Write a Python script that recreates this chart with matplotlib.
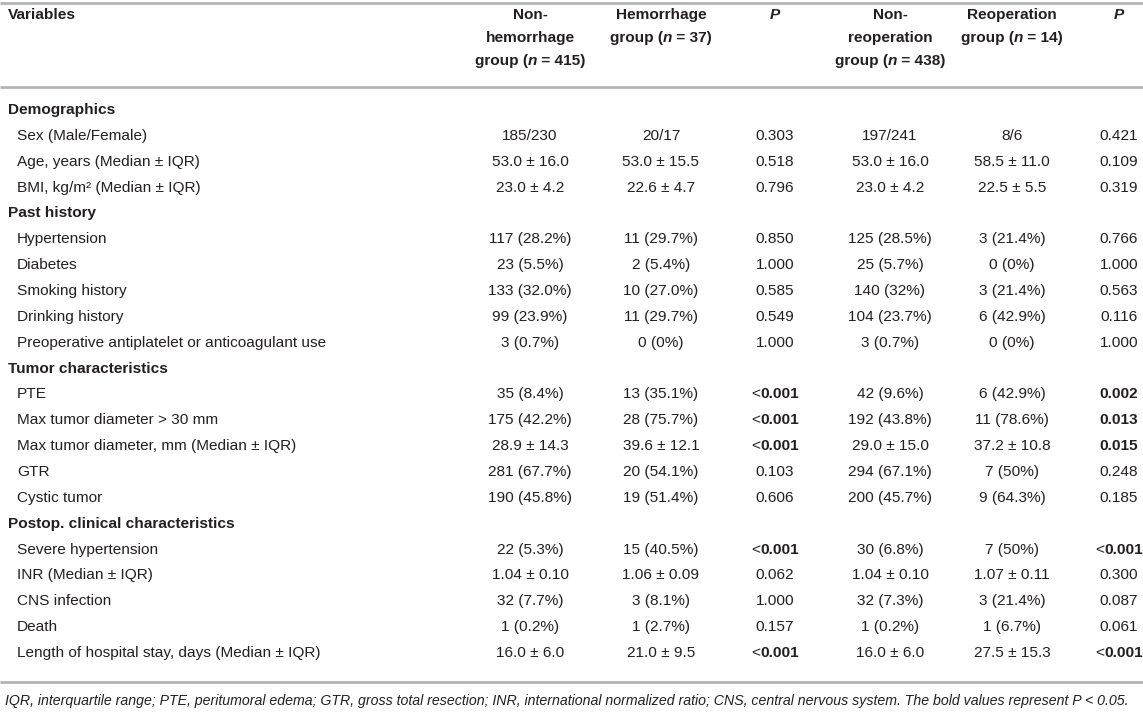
import matplotlib
matplotlib.use("Agg")
import matplotlib.pyplot as plt

plt.rcParams['font.family'] = ['Liberation Sans', 'DejaVu Sans']

# ---------------- data ----------------
headers = [
    [("Variables", "b")],
    [[("Non-", "b")], [("hemorrhage", "b")], [("group (", "b"), ("n", "bi"), (" = 415)", "b")]],
    [[("Hemorrhage", "b")], [("group (", "b"), ("n", "bi"), (" = 37)", "b")]],
    [[("P", "bi")]],
    [[("Non-", "b")], [("reoperation", "b")], [("group (", "b"), ("n", "bi"), (" = 438)", "b")]],
    [[("Reoperation", "b")], [("group (", "b"), ("n", "bi"), (" = 14)", "b")]],
    [[("P", "bi")]],
]

sections = ["Demographics", "Past history", "Tumor characteristics", "Postop. clinical characteristics"]

variables = [
    ["Sex (Male/Female)", "Age, years (Median \u00b1 IQR)", "BMI, kg/m\u00b2 (Median \u00b1 IQR)"],
    ["Hypertension", "Diabetes", "Smoking history", "Drinking history",
     "Preoperative antiplatelet or anticoagulant use"],
    ["PTE", "Max tumor diameter > 30 mm", "Max tumor diameter, mm (Median \u00b1 IQR)", "GTR", "Cystic tumor"],
    ["Severe hypertension", "INR (Median \u00b1 IQR)", "CNS infection", "Death",
     "Length of hospital stay, days (Median \u00b1 IQR)"],
]

non_hemorrhage = ["185/230", "53.0 \u00b1 16.0", "23.0 \u00b1 4.2",
                  "117 (28.2%)", "23 (5.5%)", "133 (32.0%)", "99 (23.9%)", "3 (0.7%)",
                  "35 (8.4%)", "175 (42.2%)", "28.9 \u00b1 14.3", "281 (67.7%)", "190 (45.8%)",
                  "22 (5.3%)", "1.04 \u00b1 0.10", "32 (7.7%)", "1 (0.2%)", "16.0 \u00b1 6.0"]
hemorrhage = ["20/17", "53.0 \u00b1 15.5", "22.6 \u00b1 4.7",
              "11 (29.7%)", "2 (5.4%)", "10 (27.0%)", "11 (29.7%)", "0 (0%)",
              "13 (35.1%)", "28 (75.7%)", "39.6 \u00b1 12.1", "20 (54.1%)", "19 (51.4%)",
              "15 (40.5%)", "1.06 \u00b1 0.09", "3 (8.1%)", "1 (2.7%)", "21.0 \u00b1 9.5"]
p_hemorrhage = ["0.303", "0.518", "0.796",
                "0.850", "1.000", "0.585", "0.549", "1.000",
                "<0.001", "<0.001", "<0.001", "0.103", "0.606",
                "<0.001", "0.062", "1.000", "0.157", "<0.001"]
non_reoperation = ["197/241", "53.0 \u00b1 16.0", "23.0 \u00b1 4.2",
                   "125 (28.5%)", "25 (5.7%)", "140 (32%)", "104 (23.7%)", "3 (0.7%)",
                   "42 (9.6%)", "192 (43.8%)", "29.0 \u00b1 15.0", "294 (67.1%)", "200 (45.7%)",
                   "30 (6.8%)", "1.04 \u00b1 0.10", "32 (7.3%)", "1 (0.2%)", "16.0 \u00b1 6.0"]
reoperation = ["8/6", "58.5 \u00b1 11.0", "22.5 \u00b1 5.5",
               "3 (21.4%)", "0 (0%)", "3 (21.4%)", "6 (42.9%)", "0 (0%)",
               "6 (42.9%)", "11 (78.6%)", "37.2 \u00b1 10.8", "7 (50%)", "9 (64.3%)",
               "7 (50%)", "1.07 \u00b1 0.11", "3 (21.4%)", "1 (6.7%)", "27.5 \u00b1 15.3"]
p_reoperation = ["0.421", "0.109", "0.319",
                 "0.766", "1.000", "0.563", "0.116", "1.000",
                 "0.002", "0.013", "0.015", "0.248", "0.185",
                 "<0.001", "0.300", "0.087", "0.061", "<0.001"]

footnote = ("IQR, interquartile range; PTE, peritumoral edema; GTR, gross total resection; "
            "INR, international normalized ratio; CNS, central nervous system. "
            "The bold values represent P < 0.05.")

# ---------------- layout ----------------
W, H = 1143, 712
fig = plt.figure(figsize=(W / 100, H / 100), dpi=100)
ax = fig.add_axes([0, 0, 1, 1])
ax.set_xlim(0, W)
ax.set_ylim(H, 0)
ax.axis('off')

FS = 11.1
FS_NOTE = 10.2
TXT = '#231f20'
LINE = '#b4b4b4'
col_x = [None, 530, 661, 775, 890, 1012, 1119]
x_var = 8
x_sub = 17

fig.canvas.draw()
renderer = fig.canvas.get_renderer()


def style_kw(s):
    kw = {}
    if 'b' in s:
        kw['fontweight'] = 'bold'
    if 'i' in s:
        kw['fontstyle'] = 'italic'
    return kw


def width_of(txt, s):
    t = ax.text(0, 0, txt, fontsize=FS, **style_kw(s))
    bb = t.get_window_extent(renderer=renderer)
    t.remove()
    return bb.width


def draw_segments(segs, xc, y, align='center', va='center'):
    widths = [width_of(t, s) for t, s in segs]
    total = sum(widths)
    if align == 'center':
        x = xc - total / 2
    elif align == 'left':
        x = xc
    else:
        x = xc - total
    for (t, s), w in zip(segs, widths):
        ax.text(x, y, t, fontsize=FS, color=TXT, ha='left', va=va, **style_kw(s))
        x += w


# lines
ax.plot([0, W], [3, 3], color=LINE, lw=2, solid_capstyle='butt')
ax.plot([0, W], [87, 87], color=LINE, lw=2, solid_capstyle='butt')
ax.plot([0, W], [682, 682], color=LINE, lw=2, solid_capstyle='butt')

# header
header_y = [15, 38, 61]
draw_segments(headers[0], x_var, header_y[0], align='left')
for ci in range(1, 7):
    for li, segs in enumerate(headers[ci]):
        draw_segments(segs, col_x[ci], header_y[li])

# body
y0 = 110
dy = 25.86
row = 0
k = 0
columns = [non_hemorrhage, hemorrhage, p_hemorrhage, non_reoperation, reoperation, p_reoperation]
for si, sec in enumerate(sections):
    y = y0 + row * dy
    ax.text(x_var, y, sec, fontsize=FS, fontweight='bold', color=TXT, ha='left', va='center')
    row += 1
    for var in variables[si]:
        y = y0 + row * dy
        ax.text(x_sub, y, var, fontsize=FS, color=TXT, ha='left', va='center')
        for ci, colvals in enumerate(columns, start=1):
            v = colvals[k]
            if ci in (3, 6):
                bold = v.startswith('<') or float(v) < 0.05
                if bold:
                    if v.startswith('<'):
                        draw_segments([('<', ''), (v[1:], 'b')], col_x[ci], y)
                    else:
                        draw_segments([(v, 'b')], col_x[ci], y)
                    continue
            ax.text(col_x[ci], y, v, fontsize=FS, color=TXT, ha='center', va='center')
        row += 1
        k += 1

ax.text(5, 701, footnote, fontsize=FS_NOTE, fontstyle='italic', color=TXT, ha='left', va='center')

fig.savefig('out.png', dpi=100)
